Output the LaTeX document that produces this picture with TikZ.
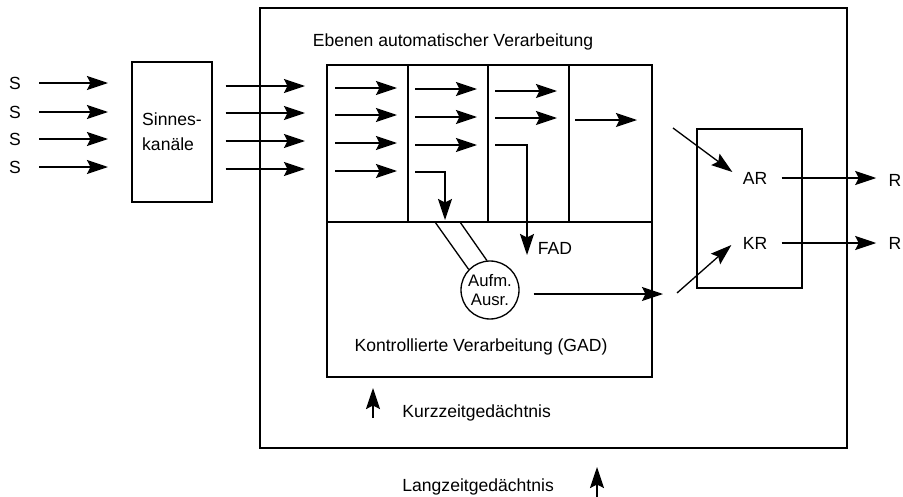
\documentclass[tikz,border=0pt]{standalone}
\usepackage{fontspec}
\setmainfont{Liberation Sans}
\usetikzlibrary{arrows.meta}
\tikzset{
  every node/.style={font=\fontsize{10}{12}\selectfont, inner sep=1pt},
  box/.style={draw, line width=0.75pt, inner sep=0pt},
  arr/.style={-{Stealth[length=12pt,width=8pt,inset=2pt]}, line width=0.75pt},
}
\begin{document}
\begin{tikzpicture}[x=0.02cm, y=-0.02cm, line width=0.75pt]
\useasboundingbox (0,0) rectangle (903,497);
% boxes
\node[box, minimum width=11.74cm, minimum height=8.8cm] (ltm) at (553.5,228) {};
\node[box, minimum width=6.5cm, minimum height=6.24cm] (aut) at (489.5,221) {};
\draw (aut.west |- 0,222) -- (aut.east |- 0,222);
\foreach \x in {408,488,569} \draw (\x,65) -- (\x,222);
\node[box, minimum width=1.6cm, minimum height=2.8cm, align=left,
      font=\fontsize{10}{14}\selectfont] (sk) at (172,132) {Sinnes-\\kan\"ale};
\node[box, minimum width=2.1cm, minimum height=3.18cm] (rbox) at (749.5,208.5) {};
% labels
\node (ebenen) at (453,42) {Ebenen automatischer Verarbeitung};
\node (gad) at (481,347) {Kontrollierte Verarbeitung (GAD)};
\node (fad) at (555,248) {FAD};
\node[draw, circle, minimum size=1.16cm, align=center, inner sep=0pt,
      font=\fontsize{9.5}{11}\selectfont] (att) at (490,290) {Aufm.\\Ausr.};
\node (ar) at (755,178) {AR};
\node (kr) at (755,243) {KR};
\node (r1) at (895,180) {R};
\node (r2) at (895,243) {R};
\node[anchor=west] (kzg) at (400,413) {Kurzzeitged\"achtnis};
\node[anchor=west] (lzg) at (400,487) {Langzeitged\"achtnis};
% input
\foreach \y [count=\i] in {83,112,139,167} {
  \node (s\i) at (15,\y) {S};
  \coordinate (si\i) at (108,\y);
  \draw[arr] ([xshift=0.32cm]s\i.east) -- (si\i);
}
\foreach \y [count=\i] in {86,113,141,169} {
  \coordinate (so\i) at (305,\y);
  \draw[arr] (sk.east |- so\i) ++(13,0) -- (so\i);
}
% automatic levels
\foreach \x/\y in {335/88,335/115,335/143,335/171,415/89,415/117,415/145,495/91,495/118,575/120}
  \draw[arr] (\x,\y) -- ++(62,0);
\coordinate (down1) at (445,220);
\coordinate (down2) at (527,255);
\draw[arr] (415,172) -| (down1);
\draw[arr] (495,145) -| (down2);
% attention
\draw (435,222) -- (att.136);
\draw (460,222) -- (att.96);
\coordinate (attout) at (663,294);
\draw[arr] ([xshift=0.28cm]att.east |- attout) -- (attout);
% responses
\coordinate (arin) at (673,128);
\coordinate (krin) at (677,293);
\draw[arr] (arin) -- ([xshift=-0.16cm,yshift=0.12cm]ar.west);
\draw[arr] (krin) -- ([xshift=-0.18cm,yshift=-0.04cm]kr.west);
\draw[arr] ([xshift=0.24cm]ar.east) -- ([xshift=-0.2cm]r1.west |- ar.east);
\draw[arr] ([xshift=0.24cm]kr.east) -- ([xshift=-0.2cm]r2.west |- kr.east);
% memory
\coordinate (kzgtip) at (373,388);
\coordinate (lzgtip) at (597,467);
\draw[arr] (373,418) -- (kzgtip);
\draw[arr] (597,497) -- (lzgtip);
\end{tikzpicture}
\end{document}
